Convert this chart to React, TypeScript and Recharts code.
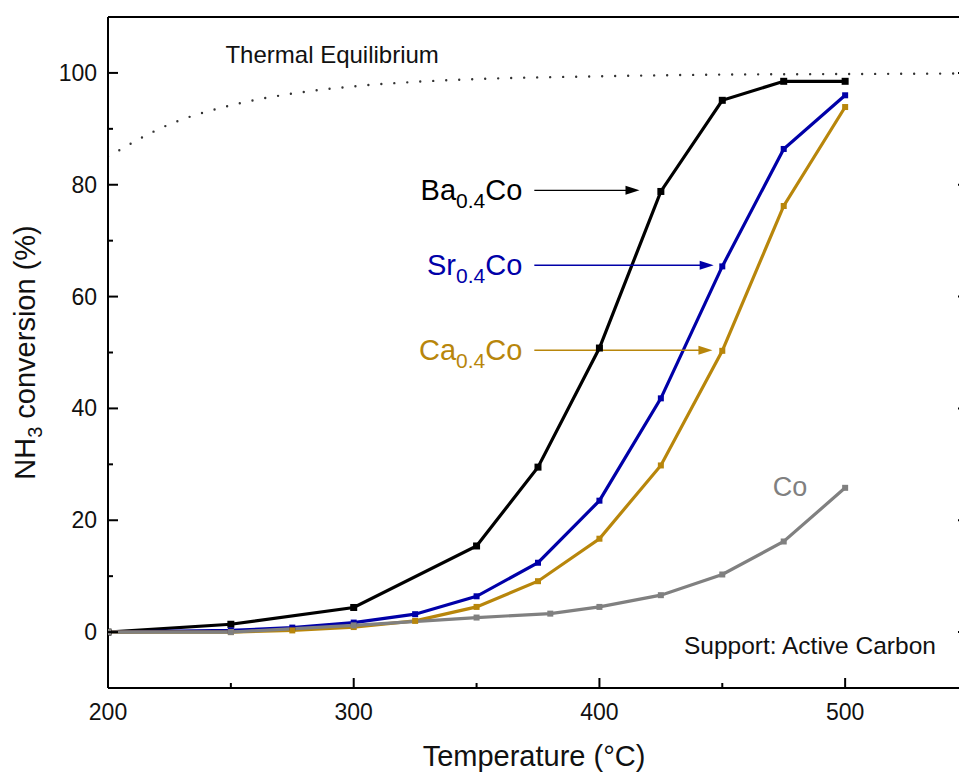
import React from 'react';
import {
  LineChart, Line, XAxis, YAxis, ReferenceLine, ReferenceDot, Label,
} from 'recharts';

const FONT = '"Liberation Sans", Arial, Helvetica, sans-serif';

// Temperature grid (°C) and NH3 conversion (%) for each catalyst
const T_BA = [200, 250, 300, 350, 375, 400, 425, 450, 475, 500];
const BA = [0, 1.4, 4.4, 15.4, 29.5, 50.8, 78.8, 95.1, 98.5, 98.5];

const T_SR = [200, 250, 275, 300, 325, 350, 375, 400, 425, 450, 475, 500];
const SR = [0, 0.3, 0.8, 1.7, 3.2, 6.4, 12.4, 23.5, 41.8, 65.4, 86.4, 96.0];

const T_CA = [200, 250, 275, 300, 325, 350, 375, 400, 425, 450, 475, 500];
const CA = [0, 0, 0.3, 0.9, 2.0, 4.5, 9.1, 16.7, 29.8, 50.3, 76.2, 93.9];

const T_CO = [200, 250, 300, 350, 380, 400, 425, 450, 475, 500];
const CO = [0, 0, 1.2, 2.6, 3.3, 4.5, 6.6, 10.3, 16.2, 25.8];

// thermodynamic equilibrium conversion
const T_EQ = [200, 225, 250, 275, 300, 325, 350, 400, 450, 500, 550];
const EQ = [85.0, 90.8, 94.2, 96.3, 97.6, 98.4, 98.9, 99.4, 99.7, 99.8, 99.9];

const X_TICKS = [200, 250, 300, 350, 400, 450, 500, 550];
const Y_TICKS = [0, 10, 20, 30, 40, 50, 60, 70, 80, 90, 100];

const COLORS = { Ba: '#000000', Sr: '#0000a8', Ca: '#b8860b', Co: '#808080' };

// arrow annotations: element, arrow start/end temperature, conversion level
const ARROW_NAMES = ['Ba', 'Sr', 'Ca'];
const ARROW_FROM = [373.5, 373.5, 373.5];
const ARROW_TO = [416.3, 446.5, 446];
const ARROW_LEVEL = [79, 65.6, 50.4];

const zip = (ts: number[], vs: number[]) => ts.map((t, i) => ({ t, v: vs[i] }));

const SERIES = [
  { name: 'Ba', data: zip(T_BA, BA), size: 7 },
  { name: 'Sr', data: zip(T_SR, SR), size: 6 },
  { name: 'Ca', data: zip(T_CA, CA), size: 6 },
  { name: 'Co', data: zip(T_CO, CO), size: 6 },
];

const isMajorX = (v: number) => v % 100 === 0;
const isMajorY = (v: number) => v % 20 === 0;

function AxisTick(props: any) {
  const { x, y, payload, side } = props;
  const v = payload.value;
  const major = side === 'bottom' || side === 'top' ? isMajorX(v) : isMajorY(v);
  const len = major ? 10 : 5;
  const stroke = { stroke: '#000', strokeWidth: 2 };
  if (side === 'left') {
    return (
      <g>
        <line x1={x} x2={x + len} y1={y} y2={y} {...stroke} />
        {major && (
          <text x={x - 11} y={y} textAnchor="end" dominantBaseline="central"
            fontSize={23} fontFamily={FONT} fill="#111">{v}</text>
        )}
      </g>
    );
  }
  if (side === 'right') {
    return <line x1={x} x2={x - len} y1={y} y2={y} {...stroke} />;
  }
  if (side === 'top') {
    return <line x1={x} x2={x} y1={y} y2={y + len} {...stroke} />;
  }
  return (
    <g>
      <line x1={x} x2={x} y1={y} y2={y - len} {...stroke} />
      {major && v <= 500 && (
        <text x={x} y={y + 32} textAnchor="middle" fontSize={23}
          fontFamily={FONT} fill="#111">{v}</text>
      )}
    </g>
  );
}

function SquareDot(props: any) {
  const { cx, cy, fill, size, index } = props;
  if (cx == null || cy == null) return null;
  return <rect key={index} x={cx - size / 2} y={cy - size / 2} width={size} height={size} fill={fill} />;
}

function ArrowLabel(props: any) {
  const { x1, y1, x2, y2, name } = props;
  const color = (COLORS as any)[name];
  const head = 14;
  return (
    <g>
      <line x1={x1} y1={y1} x2={x2 - head + 2} y2={y2} stroke={color} strokeWidth={1.3} />
      <polygon points={`${x2},${y2} ${x2 - head},${y2 - 4.5} ${x2 - head},${y2 + 4.5}`} fill={color} />
      <text x={x1 - 12} y={y1 + 10} textAnchor="end" fontSize={29} fontFamily={FONT} fill={color}>
        <tspan>{name}</tspan>
        <tspan dy={8} fontSize={21}>0.4</tspan>
        <tspan dy={-8}>Co</tspan>
      </text>
    </g>
  );
}

const axisLine = { stroke: '#000', strokeWidth: 2 };

export default function App() {
  return (
    <div style={{ width: 959, height: 773, overflow: 'hidden', background: '#fff' }}>
      <style>{'body{margin:0;overflow:hidden}'}</style>
      <LineChart width={1008} height={773} margin={{ top: 8, right: 0, bottom: 0, left: 8 }}>
        <XAxis dataKey="t" type="number" domain={[200, 550]} allowDataOverflow
          ticks={X_TICKS} interval={0} height={85} tickSize={0} tickMargin={0}
          axisLine={axisLine} tickLine={false}
          tick={(p: any) => <AxisTick {...p} side="bottom" />}>
          <Label content={({ viewBox }: any) => (
            <text x={viewBox.x + 426} y={viewBox.y + 78} textAnchor="middle"
              fontSize={29} fontFamily={FONT} fill="#111">Temperature (°C)</text>
          )} />
        </XAxis>
        <XAxis xAxisId="top" orientation="top" type="number" domain={[200, 550]} allowDataOverflow
          ticks={X_TICKS} interval={0} height={9} tickSize={0} tickMargin={0}
          axisLine={axisLine} tickLine={false}
          tick={(p: any) => <AxisTick {...p} side="top" />} />
        <YAxis type="number" domain={[-10, 110]} allowDataOverflow ticks={Y_TICKS} interval={0}
          width={100} tickSize={0} tickMargin={0} axisLine={axisLine} tickLine={false}
          tick={(p: any) => <AxisTick {...p} side="left" />}>
          <Label content={({ viewBox }: any) => {
            const cx = viewBox.x + 27;
            const cy = viewBox.y + viewBox.height / 2;
            return (
              <text x={cx} y={cy} transform={`rotate(-90, ${cx}, ${cy})`} textAnchor="middle"
                fontSize={29} fontFamily={FONT} fill="#111">
                <tspan>NH</tspan>
                <tspan dy={7} fontSize={20}>3</tspan>
                <tspan dy={-7}> conversion (%)</tspan>
              </text>
            );
          }} />
        </YAxis>
        <YAxis yAxisId="right" orientation="right" type="number" domain={[-10, 110]} allowDataOverflow
          ticks={Y_TICKS} interval={0} width={40} tickSize={0} tickMargin={0}
          axisLine={axisLine} tickLine={false}
          tick={(p: any) => <AxisTick {...p} side="right" />} />

        <Line data={zip(T_EQ, EQ)} dataKey="v" type="monotone" stroke="#333"
          strokeWidth={2.4} strokeDasharray="0 13" strokeLinecap="round" dot={false}
          isAnimationActive={false} />

        {SERIES.map((s) => {
          const color = (COLORS as any)[s.name];
          return (
            <Line key={s.name} data={s.data} dataKey="v" type="linear" stroke={color}
              strokeWidth={3.2} isAnimationActive={false}
              dot={(p: any) => <SquareDot {...p} key={p.index} fill={color} size={s.size} />} />
          );
        })}

        {ARROW_NAMES.map((n, i) => (
          <ReferenceLine key={n}
            segment={[{ x: ARROW_FROM[i], y: ARROW_LEVEL[i] }, { x: ARROW_TO[i], y: ARROW_LEVEL[i] }]}
            shape={(p: any) => <ArrowLabel {...p} name={n} />} />
        ))}

        <ReferenceDot x={247.8} y={101.7} r={0}
          shape={(p: any) => (
            <text x={p.cx} y={p.cy} fontSize={24} fontFamily={FONT} fill="#111">Thermal Equilibrium</text>
          )} />
        <ReferenceDot x={470.5} y={24.4} r={0}
          shape={(p: any) => (
            <text x={p.cx} y={p.cy} fontSize={27} fontFamily={FONT} fill={COLORS.Co}>Co</text>
          )} />
        <ReferenceDot x={434.4} y={-4} r={0}
          shape={(p: any) => (
            <text x={p.cx} y={p.cy} fontSize={24.5} fontFamily={FONT} fill="#111">Support: Active Carbon</text>
          )} />
      </LineChart>
    </div>
  );
}
